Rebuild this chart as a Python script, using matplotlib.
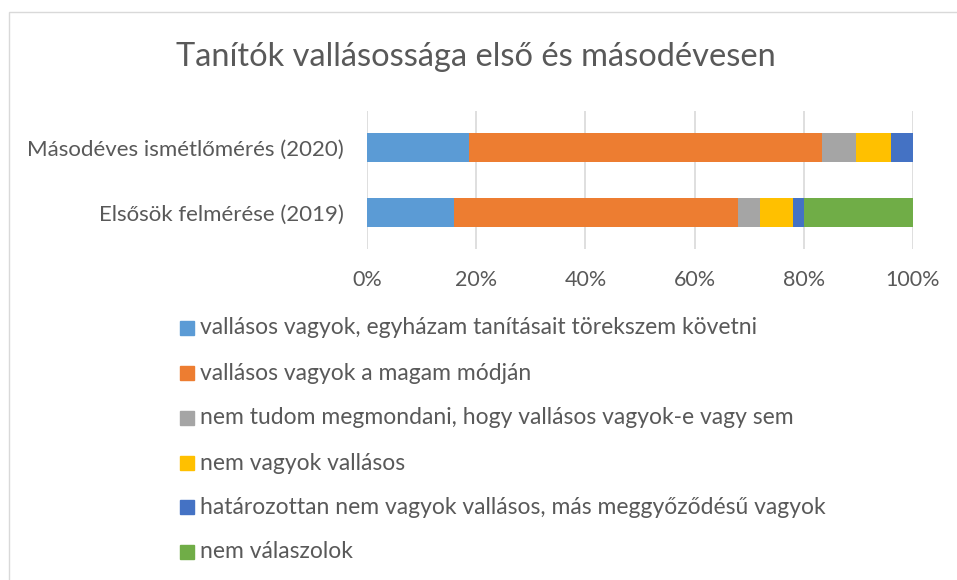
"""
Tanítók vallásossága - 100% stacked horizontal bar chart.
"""

import matplotlib
matplotlib.use("Agg")
import matplotlib.pyplot as plt
from matplotlib.patches import Rectangle
from matplotlib.ticker import PercentFormatter

plt.rcParams["font.family"] = ["Lato", "DejaVu Sans"]

TEXT = "#595959"

categories = ["Elsősök felmérése (2019)", "Másodéves ismétlőmérés (2020)"]
series_labels = [
    "vallásos vagyok, egyházam tanításait törekszem követni",
    "vallásos vagyok a magam módján",
    "nem tudom megmondani, hogy vallásos vagyok-e vagy sem",
    "nem vagyok vallásos",
    "határozottan nem vagyok vallásos, más meggyőződésű vagyok",
    "nem válaszolok",
]
colors = ["#5b9bd5", "#ed7d31", "#a5a5a5", "#ffc000", "#4472c4", "#70ad47"]
# shares in percent, [2019, 2020]
values = [
    [16.0, 18.7],
    [52.0, 64.6],
    [4.0, 6.2],
    [6.0, 6.4],
    [2.0, 4.1],
    [20.0, 0.0],
]

W, H = 957, 580
fig = plt.figure(figsize=(W / 100, H / 100), dpi=100)

# light chart border (left/top visible, rest runs off the image)
fig.patches.append(Rectangle((8.5 / W, -0.05), 1.1, 1.05 - 11.5 / H,
                             transform=fig.transFigure, fill=False,
                             edgecolor="#d9d9d9", linewidth=1))

ax = fig.add_axes([367 / W, 1 - 249 / H, 546 / W, 138 / H])

y = list(range(len(categories)))
left = [0.0] * len(categories)
for lab, col, vals in zip(series_labels, colors, values):
    frac = [v / 100 for v in vals]
    ax.barh(y, frac, left=left, height=0.446, color=col, label=lab, zorder=3)
    left = [l + f for l, f in zip(left, frac)]

ax.set_xlim(0, 1)
ax.set_ylim(-0.56, 1.56)
ax.set_xticks([0, 0.2, 0.4, 0.6, 0.8, 1.0])
ax.xaxis.set_major_formatter(PercentFormatter(1.0, decimals=0))
ax.set_yticks(y)
ax.set_yticklabels(categories)
ax.grid(axis="x", color="#d9d9d9", linewidth=1.2, zorder=0)
for s in ax.spines.values():
    s.set_visible(False)
ax.tick_params(axis="both", length=0, colors=TEXT)
ax.tick_params(axis="x", pad=15, labelsize=15.5)
ax.tick_params(axis="y", pad=16.5, labelsize=16)

fig.text(475.5 / W, 1 - 57 / H, "Tanítók vallásossága első és másodévesen",
         ha="center", va="center", fontsize=23.5, color=TEXT)

# legend, one column
row_y = [328, 373, 418, 463, 507, 552]
for lab, col, ry in zip(series_labels, colors, row_y):
    fig.patches.append(Rectangle((180 / W, 1 - (ry + 7) / H), 14 / W, 14 / H,
                                 transform=fig.transFigure, color=col))
    fig.text(200 / W, 1 - ry / H, lab, ha="left", va="center",
             fontsize=16.5, color=TEXT)

fig.savefig("out.png", dpi=100)
